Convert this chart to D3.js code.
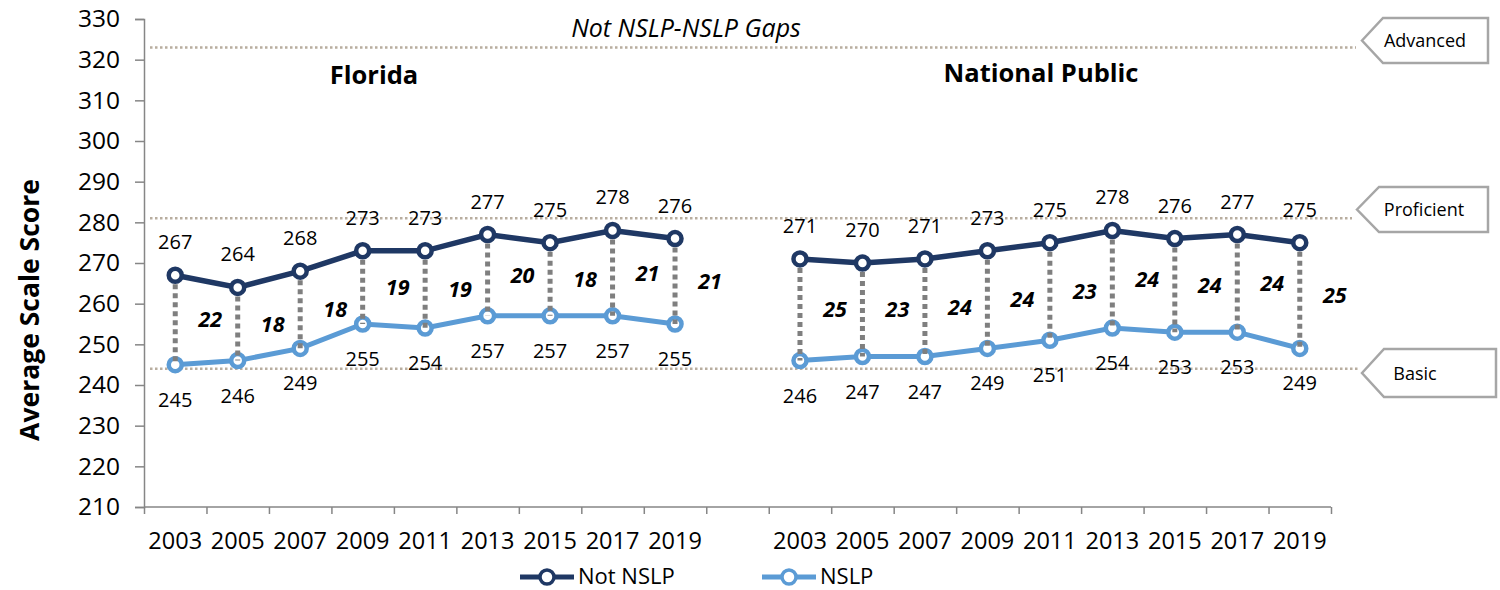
<!DOCTYPE html>
<html><head><meta charset="utf-8">
<script src="https://cdn.jsdelivr.net/npm/d3@7"></script>
<style>body{margin:0;background:#fff}svg{display:block}text{font-family:"Open Sans",sans-serif}</style>
</head><body><svg id="c" width="1500" height="590"></svg>
<script>
const years = ["2003","2005","2007","2009","2011","2013","2015","2017","2019"];
const panels = ["Florida","National Public"];
const flNotNSLP = [267,264,268,273,273,277,275,278,276];
const flNSLP    = [245,246,249,255,254,257,257,257,255];
const flGaps    = [22,18,18,19,19,20,18,21,21];
const npNotNSLP = [271,270,271,273,275,278,276,277,275];
const npNSLP    = [246,247,247,249,251,254,253,253,249];
const npGaps    = [25,23,24,24,23,24,24,24,25];
const yTicks = [210,220,230,240,250,260,270,280,290,300,310,320,330];
const levels = [{name:"Advanced",v:323},{name:"Proficient",v:281},{name:"Basic",v:244}];
const seriesNames = ["Not NSLP","NSLP"];
const colors = {"Not NSLP":"#1f3864","NSLP":"#5b9bd5"};

const svg = d3.select("#c");
const L=144,R=1331,T=19,B=507;
const keys = [];
years.forEach(y=>keys.push("FL-"+y)); keys.push("gap"); years.forEach(y=>keys.push("NP-"+y));
const x = d3.scaleBand().domain(keys).range([L,R]).padding(0);
const xc = k => x(k)+x.bandwidth()/2;
const y = d3.scaleLinear().domain([210,330]).range([B,T]);
const xi = d3.scaleLinear().domain([0,keys.length]).range([L,R]);

// reference lines
levels.forEach((lv,i)=>{
  svg.append("line").attr("x1",150).attr("x2",[1356,1352,1360][i]).attr("y1",y(lv.v)).attr("y2",y(lv.v))
    .attr("stroke","#b8ad9f").attr("stroke-width",2.5).attr("stroke-dasharray","2.5 2.5");
});

// axes
const ya = svg.append("g").attr("transform",`translate(${L},0)`)
  .call(d3.axisLeft(y).tickValues(yTicks).tickSize(9).tickPadding(15));
ya.select(".domain").attr("stroke","#868686").attr("stroke-width",1.5);
ya.selectAll(".tick line").attr("stroke","#868686").attr("stroke-width",1.5);
ya.selectAll(".tick text").attr("font-size",24.5).attr("fill","#000").attr("font-family","Open Sans");

const xa = svg.append("g").attr("transform",`translate(0,${B})`)
  .call(d3.axisBottom(x).tickSize(0).tickPadding(25).tickFormat(k=>k==="gap"?"":k.slice(3)));
xa.select(".domain").remove();
xa.selectAll(".tick text").attr("font-size",23.5).attr("fill","#000").attr("font-family","Open Sans");
const xt = svg.append("g").attr("transform",`translate(0,${B})`)
  .call(d3.axisBottom(xi).tickValues(d3.range(0,keys.length+1)).tickSize(7).tickFormat(""));
xt.select(".domain").attr("stroke","#868686").attr("stroke-width",1.5).attr("d",`M${L},0H${R}`);
xt.selectAll(".tick line").attr("stroke","#868686").attr("stroke-width",1.5);

// y title
svg.append("text").attr("transform","translate(39,310) rotate(-90)").attr("text-anchor","middle")
  .attr("font-size",26.5).attr("font-weight","bold").text("Average Scale Score");

// titles
svg.append("text").attr("x",686).attr("y",37).attr("text-anchor","middle").attr("font-size",25)
  .attr("font-style","italic").text("Not NSLP-NSLP Gaps");
svg.append("text").attr("x",374).attr("y",84).attr("text-anchor","middle").attr("font-size",25.5)
  .attr("font-weight","bold").text(panels[0]);
svg.append("text").attr("x",1041).attr("y",82).attr("text-anchor","middle").attr("font-size",25.5)
  .attr("font-weight","bold").text(panels[1]);

// callouts
const callY = [[18,63],[187,232],[349,397]];
const callX = [[1362,1383,1488,1425],[1357,1379,1488,1424],[1362,1384,1496,1415]];
levels.forEach((lv,i)=>{
  const [t,b]=callY[i]; const [tip,sh,r,tx]=callX[i]; const m=(t+b)/2;
  svg.append("path").attr("d",`M${tip},${m}L${sh},${t}H${r}V${b}H${sh}Z`)
    .attr("fill","#fff").attr("stroke","#a6a6a6").attr("stroke-width",2.5);
  svg.append("text").attr("x",tx).attr("y",m+6.5).attr("text-anchor","middle").attr("font-size",18).text(lv.name);
});

const line = d3.line().x(d=>d.x).y(d=>d.y);
function drawPanel(prefix, hi, lo, gaps){
  const ptsHi = years.map((yr,i)=>({x:xc(prefix+yr),y:y(hi[i]),v:hi[i]}));
  const ptsLo = years.map((yr,i)=>({x:xc(prefix+yr),y:y(lo[i]),v:lo[i]}));
  svg.append("path").attr("d",line(ptsHi)).attr("fill","none").attr("stroke",colors["Not NSLP"]).attr("stroke-width",5.5);
  svg.append("path").attr("d",line(ptsLo)).attr("fill","none").attr("stroke",colors["NSLP"]).attr("stroke-width",5);
  ptsHi.forEach(p=>svg.append("circle").attr("cx",p.x).attr("cy",p.y).attr("r",6.5).attr("fill","#fff")
    .attr("stroke",colors["Not NSLP"]).attr("stroke-width",4.5));
  ptsLo.forEach(p=>svg.append("circle").attr("cx",p.x).attr("cy",p.y).attr("r",6.5).attr("fill","#fff")
    .attr("stroke",colors["NSLP"]).attr("stroke-width",4.5));
  // drop lines
  years.forEach((yr,i)=>{
    svg.append("line").attr("x1",ptsHi[i].x).attr("x2",ptsHi[i].x).attr("y1",ptsHi[i].y+9).attr("y2",ptsLo[i].y)
      .attr("stroke","#7f7f7f").attr("stroke-width",5).attr("stroke-dasharray","5 4");
  });
  ptsHi.forEach(p=>svg.append("text").attr("x",p.x).attr("y",p.y-33+7).attr("text-anchor","middle").attr("font-size",20).text(p.v));
  ptsLo.forEach(p=>svg.append("text").attr("x",p.x).attr("y",p.y+35+7).attr("text-anchor","middle").attr("font-size",20).text(p.v));
  years.forEach((yr,i)=>{
    svg.append("text").attr("x",ptsHi[i].x+35).attr("y",(ptsHi[i].y+ptsLo[i].y)/2+7.5).attr("text-anchor","middle")
      .attr("font-size",21.5).attr("font-weight","bold").attr("font-style","italic").text(gaps[i]);
  });
}
drawPanel("FL-",flNotNSLP,flNSLP,flGaps);
drawPanel("NP-",npNotNSLP,npNSLP,npGaps);

// legend
const lg = [{n:seriesNames[0],x:520},{n:seriesNames[1],x:762}];
lg.forEach(d=>{
  svg.append("line").attr("x1",d.x).attr("x2",d.x+54).attr("y1",577).attr("y2",577).attr("stroke",colors[d.n]).attr("stroke-width",5);
  svg.append("circle").attr("cx",d.x+27).attr("cy",577).attr("r",7).attr("fill","#fff").attr("stroke",colors[d.n]).attr("stroke-width",3.5);
  svg.append("text").attr("x",d.x+58).attr("y",583.5).attr("font-size",22).text(d.n);
});
</script></body></html>
